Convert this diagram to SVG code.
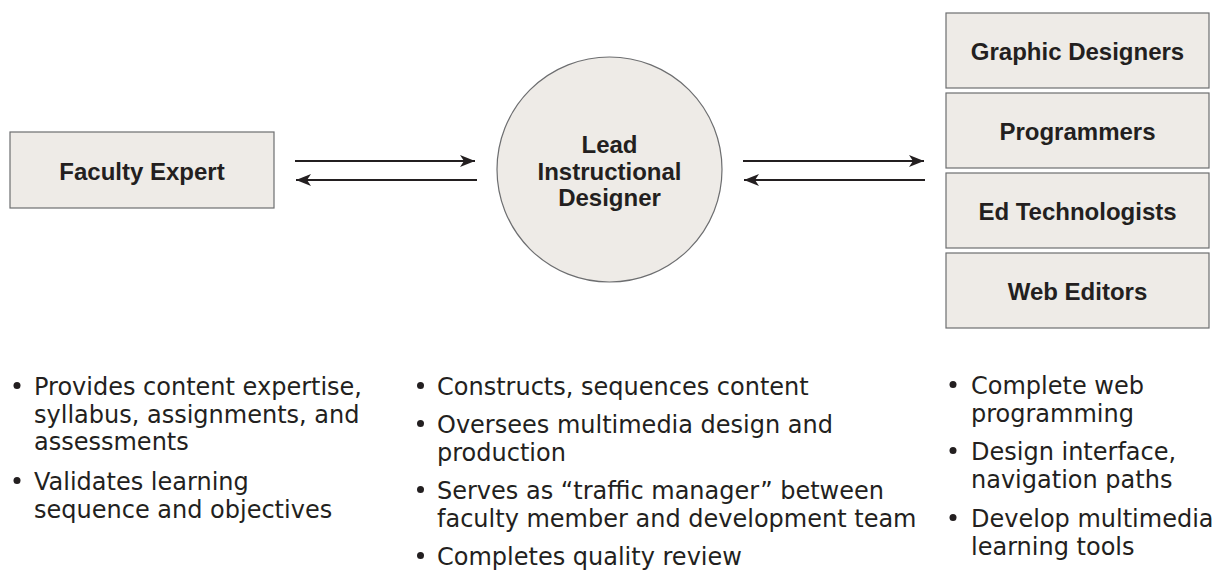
<svg xmlns="http://www.w3.org/2000/svg" width="1213" height="571" viewBox="0 0 1213 571">
<style>
.box{fill:#eeebe7;stroke:#6d6e70;stroke-width:1.2}
.lbl{font-family:"Liberation Sans",Arial,sans-serif;font-weight:bold;font-size:24px;fill:#231f20;text-anchor:middle}
.bt{font-family:"DejaVu Sans","Liberation Sans",sans-serif;font-size:24px;fill:#231f20}
.bul{fill:#231f20}
.conn{stroke:#231f20;stroke-width:2;fill:none}
</style>
<defs>
<marker id="ah" markerWidth="16" markerHeight="14" refX="15" refY="6" orient="auto" markerUnits="userSpaceOnUse">
<path d="M0,0 L15,6 L0,12 L4,6 Z" fill="#231f20"/>
</marker>
</defs>
<rect width="1213" height="571" fill="#ffffff"/>
<g id="connectors">
<line class="conn" x1="295" y1="161" x2="475" y2="161" marker-end="url(#ah)"/>
<line class="conn" x1="477" y1="180" x2="296" y2="180" marker-end="url(#ah)"/>
<line class="conn" x1="743" y1="161" x2="924" y2="161" marker-end="url(#ah)"/>
<line class="conn" x1="925" y1="180" x2="744" y2="180" marker-end="url(#ah)"/>
</g>
<g id="faculty-expert">
<rect class="box" x="10" y="132" width="264" height="76"/>
<text class="lbl" x="142" y="180">Faculty Expert</text>
</g>
<g id="lead-instructional-designer">
<circle class="box" cx="609.5" cy="169.5" r="112.5"/>
<text class="lbl" x="609.5" y="153">Lead</text>
<text class="lbl" x="609.5" y="179.5">Instructional</text>
<text class="lbl" x="609.5" y="206">Designer</text>
</g>
<g id="graphic-designers">
<rect class="box" x="946" y="13" width="263" height="75"/>
<text class="lbl" x="1077.5" y="60">Graphic Designers</text>
</g>
<g id="programmers">
<rect class="box" x="946" y="93" width="263" height="75"/>
<text class="lbl" x="1077.5" y="140">Programmers</text>
</g>
<g id="ed-technologists">
<rect class="box" x="946" y="173" width="263" height="75"/>
<text class="lbl" x="1077.5" y="220">Ed Technologists</text>
</g>
<g id="web-editors">
<rect class="box" x="946" y="253" width="263" height="75"/>
<text class="lbl" x="1077.5" y="300">Web Editors</text>
</g>
<g id="faculty-notes">
<circle class="bul" cx="17" cy="385.5" r="3.5"/>
<text class="bt" x="34" y="395">Provides content expertise,</text>
<text class="bt" x="34" y="422.5">syllabus, assignments, and</text>
<text class="bt" x="34" y="450">assessments</text>
<circle class="bul" cx="17" cy="480.5" r="3.5"/>
<text class="bt" x="34" y="490">Validates learning</text>
<text class="bt" x="34" y="517.5">sequence and objectives</text>
</g>
<g id="designer-notes">
<circle class="bul" cx="420.5" cy="385.5" r="3.5"/>
<text class="bt" x="437" y="395">Constructs, sequences content</text>
<circle class="bul" cx="420.5" cy="423.5" r="3.5"/>
<text class="bt" x="437" y="433">Oversees multimedia design and</text>
<text class="bt" x="437" y="460.5">production</text>
<circle class="bul" cx="420.5" cy="489.5" r="3.5"/>
<text class="bt" x="437" y="499">Serves as “traffic manager” between</text>
<text class="bt" x="437" y="526.5">faculty member and development team</text>
<circle class="bul" cx="420.5" cy="555.5" r="3.5"/>
<text class="bt" x="437" y="565">Completes quality review</text>
</g>
<g id="team-notes">
<circle class="bul" cx="953" cy="384.5" r="3.5"/>
<text class="bt" x="971" y="394">Complete web</text>
<text class="bt" x="971" y="421.5">programming</text>
<circle class="bul" cx="953" cy="450.5" r="3.5"/>
<text class="bt" x="971" y="460">Design interface,</text>
<text class="bt" x="971" y="488">navigation paths</text>
<circle class="bul" cx="953" cy="517.5" r="3.5"/>
<text class="bt" x="971" y="527">Develop multimedia</text>
<text class="bt" x="971" y="555">learning tools</text>
</g>
</svg>
